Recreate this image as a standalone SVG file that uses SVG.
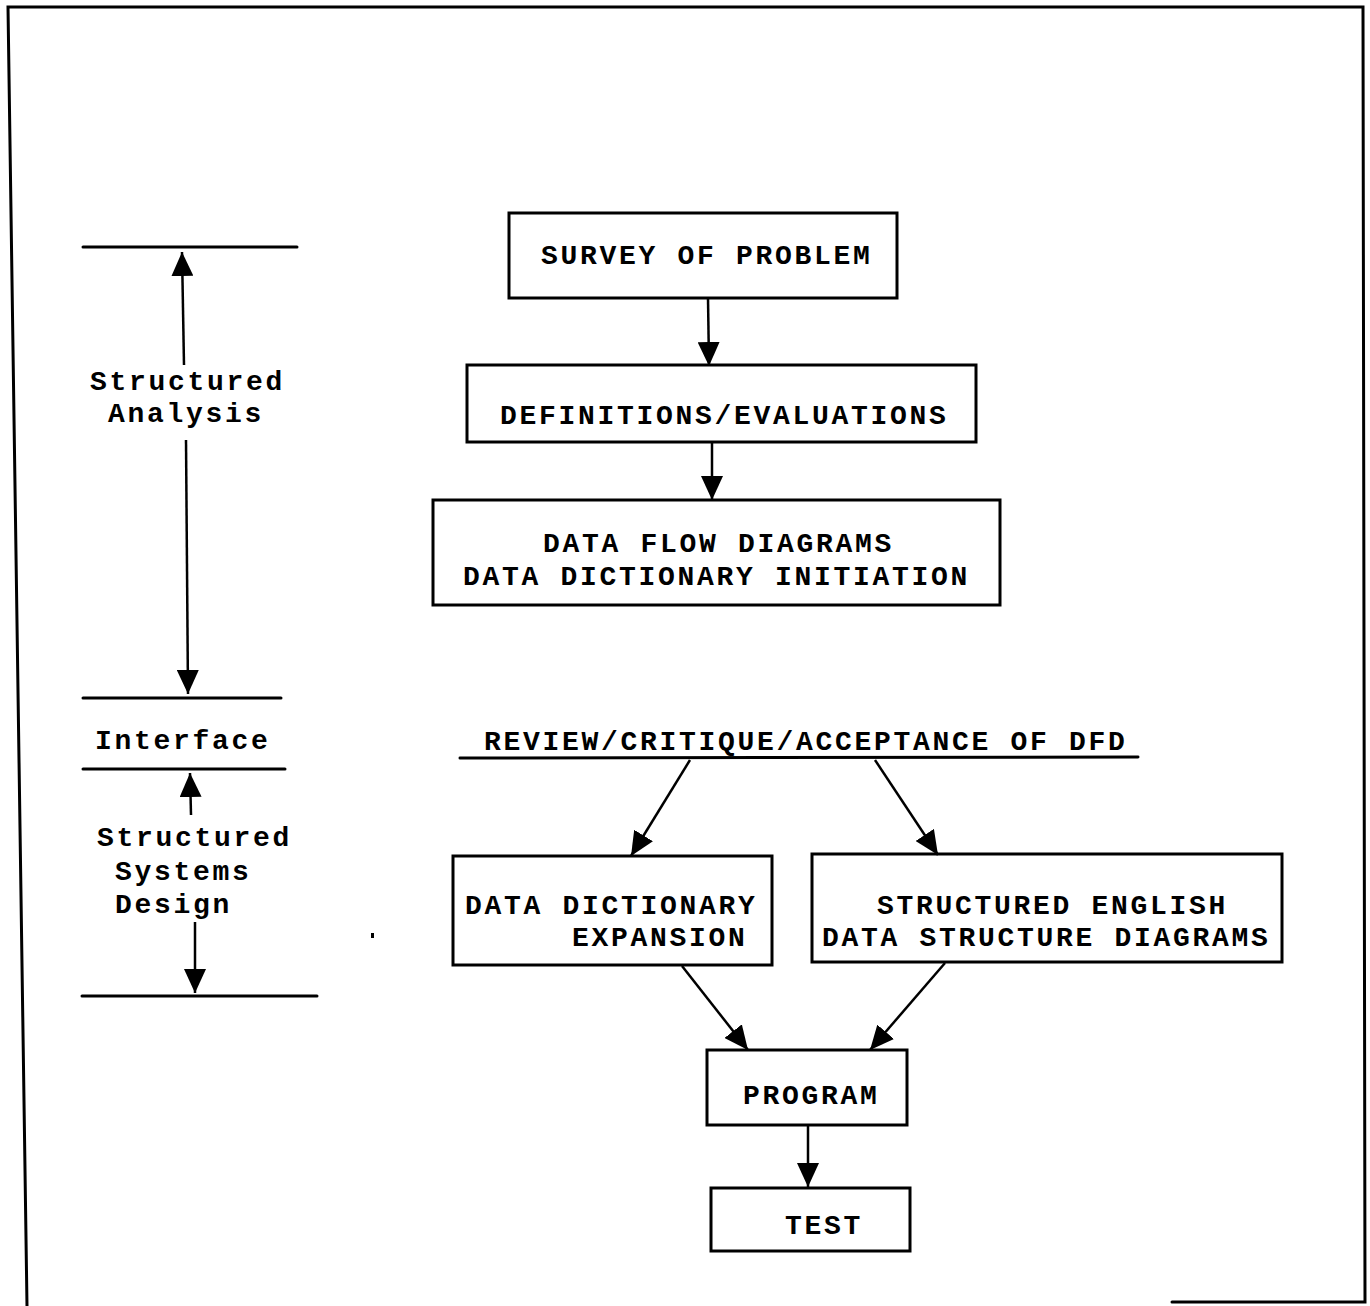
<svg xmlns="http://www.w3.org/2000/svg" width="1370" height="1306" viewBox="0 0 1370 1306">
<style>
  .bg { fill: #ffffff; }
  .box { fill: none; stroke: #000; stroke-width: 3; }
  .ln { fill: none; stroke: #000; stroke-width: 3; stroke-linecap: round; }
  .arr { fill: none; stroke: #000; stroke-width: 2.5; marker-end: url(#ah); }
  .t { font-family: "Liberation Mono", "DejaVu Sans Mono", monospace; font-size: 28px; font-weight: bold; letter-spacing: 2.7px; fill: #000; }
  .lbl { font-family: "Liberation Mono", "DejaVu Sans Mono", monospace; font-size: 28px; font-weight: bold; letter-spacing: 2.7px; fill: #000; }
</style>
<defs>
  <marker id="ah" markerUnits="userSpaceOnUse" markerWidth="24" markerHeight="22" refX="24" refY="11" orient="auto">
    <path d="M0,0 L24,11 L0,22 z" fill="#000"/>
  </marker>
</defs>
<rect class="bg" x="0" y="0" width="1370" height="1306"/>

<g id="frame">
  <polyline class="ln" points="27,1306 8,7 1363,7 1365,1302 1172,1302" stroke-width="4"/>
</g>

<g id="phase-axis">
  <line class="ln" x1="83" y1="247" x2="297" y2="247"/>
  <line class="ln" x1="83" y1="698" x2="281" y2="698"/>
  <line class="ln" x1="83" y1="769" x2="285" y2="769"/>
  <line class="ln" x1="82" y1="996" x2="317" y2="996"/>
  <text class="lbl" x="90" y="390">Structured</text>
  <text class="lbl" x="108" y="422">Analysis</text>
  <text class="lbl" x="95" y="749">Interface</text>
  <text class="lbl" x="97" y="846">Structured</text>
  <text class="lbl" x="115" y="880">Systems</text>
  <text class="lbl" x="115" y="913">Design</text>
  <rect x="371" y="933" width="3" height="5" fill="#000"/>
</g>

<g id="connectors">
  <line class="arr" x1="184" y1="365" x2="182" y2="252"/>
  <line class="arr" x1="186" y1="440" x2="188" y2="694"/>
  <line class="arr" x1="191" y1="815" x2="190" y2="773"/>
  <line class="arr" x1="195" y1="922" x2="195" y2="993"/>
  <line class="arr" x1="708" y1="298" x2="709" y2="366"/>
  <line class="arr" x1="712" y1="442" x2="712" y2="500"/>
  <line class="arr" x1="690" y1="760" x2="631" y2="856"/>
  <line class="arr" x1="875" y1="760" x2="938" y2="855"/>
  <line class="arr" x1="682" y1="966" x2="748" y2="1050"/>
  <line class="arr" x1="945" y1="963" x2="870" y2="1050"/>
  <line class="arr" x1="808" y1="1125" x2="808" y2="1187"/>
</g>

<g id="survey">
  <rect class="box" x="509" y="213" width="388" height="85"/>
  <text class="t" x="541" y="264">SURVEY OF PROBLEM</text>
</g>
<g id="definitions">
  <rect class="box" x="467" y="365" width="509" height="77"/>
  <text class="t" x="500" y="424">DEFINITIONS/EVALUATIONS</text>
</g>
<g id="dfd">
  <rect class="box" x="433" y="500" width="567" height="105"/>
  <text class="t" x="543" y="552">DATA FLOW DIAGRAMS</text>
  <text class="t" x="463" y="585">DATA DICTIONARY INITIATION</text>
</g>
<g id="review">
  <text class="t" x="484" y="750">REVIEW/CRITIQUE/ACCEPTANCE OF DFD</text>
  <line class="ln" x1="460" y1="758" x2="1138" y2="757"/>
</g>
<g id="dd-expansion">
  <rect class="box" x="453" y="856" width="319" height="109"/>
  <text class="t" x="465" y="914">DATA DICTIONARY</text>
  <text class="t" x="572" y="946">EXPANSION</text>
</g>
<g id="structured-english">
  <rect class="box" x="812" y="854" width="470" height="108"/>
  <text class="t" x="877" y="914">STRUCTURED ENGLISH</text>
  <text class="t" x="822" y="946">DATA STRUCTURE DIAGRAMS</text>
</g>
<g id="program">
  <rect class="box" x="707" y="1050" width="200" height="75"/>
  <text class="t" x="743" y="1104">PROGRAM</text>
</g>
<g id="test">
  <rect class="box" x="711" y="1188" width="199" height="63"/>
  <text class="t" x="785" y="1234">TEST</text>
</g>
</svg>
